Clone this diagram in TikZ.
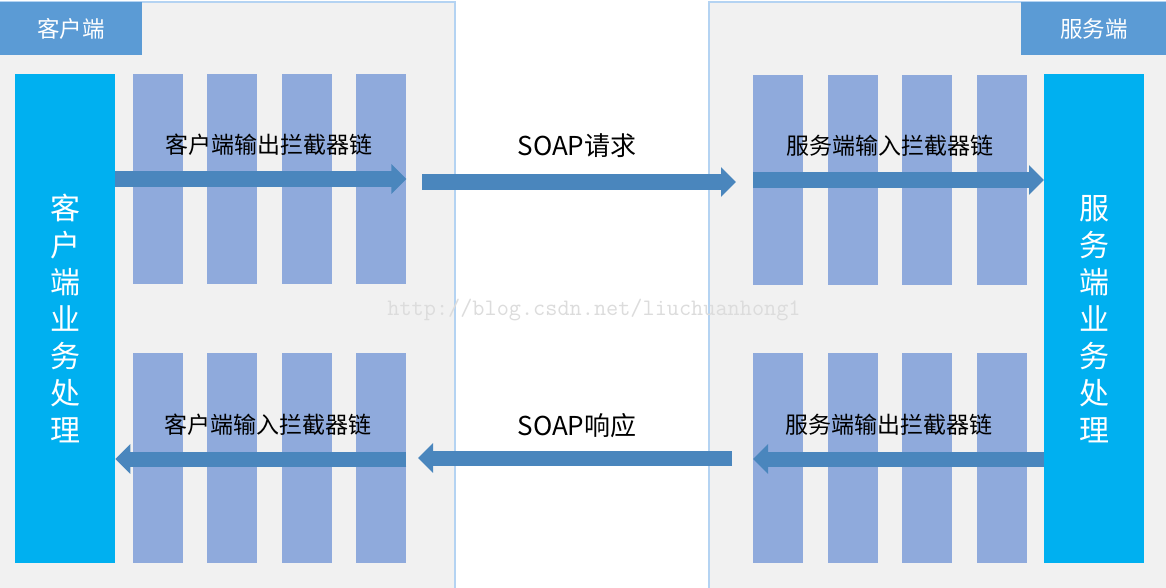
\documentclass[tikz,border=0pt]{standalone}
\usepackage{fontspec}
\newfontfamily\cjk{Noto Sans CJK SC}
\usetikzlibrary{arrows.meta}
\definecolor{panelc}{HTML}{F1F1F1}
\definecolor{panelb}{HTML}{B4D3F2}
\definecolor{headc}{HTML}{5B9BD5}
\definecolor{bizc}{HTML}{00B0F0}
\definecolor{colc}{HTML}{8FAADC}
\definecolor{arrc}{HTML}{4A86BD}
\definecolor{wmc}{HTML}{DCDCDC}
\begin{document}
\begin{tikzpicture}[x=1pt,y=-1pt,
  panel/.style={fill=panelc,draw=panelb,line width=1.2pt},
  head/.style={fill=headc,inner sep=0pt,anchor=north west,minimum width=142pt,minimum height=53pt,text=white,font=\cjk\fontsize{22.5}{26}\selectfont},
  col/.style={fill=colc,inner sep=0pt,anchor=north west,minimum width=50pt,minimum height=210pt},
  biz/.style={fill=bizc,inner sep=0pt,anchor=north west,minimum width=100pt,minimum height=489pt,text=white,align=center,font=\cjk\fontsize{30}{37}\selectfont},
  lbl/.style={inner sep=0pt,font=\cjk\fontsize{23}{27}\selectfont,text=black},
  soap/.style={inner sep=0pt,font=\cjk\fontsize{26}{30}\selectfont,text=black},
  flow/.style={draw=arrc,line width=15pt,-{Triangle[length=15pt,width=29pt]}}]
\useasboundingbox (0,0) rectangle (1166,588);
\fill[white] (0,0) rectangle (1166,588);
% panels
\path[panel] (-2,2) rectangle (455,592);
\path[panel] (709,2) rectangle (1170,592);
\node[head] (hl) at (0,2) {客户端};
\node[head,minimum width=146pt] (hr) at (1021,2) {服务端};
% business boxes
\node[biz] (cbiz) at (15,74) {客\\户\\端\\业\\务\\处\\理};
\node[biz] (sbiz) at (1044,74) {服\\务\\端\\业\\务\\处\\理};
% client columns
\node[col] (ct1) at (133,74) {};
\node[col] (ct2) at (207,74) {};
\node[col] (ct3) at (282,74) {};
\node[col] (ct4) at (356,74) {};
\node[col] (cb1) at (133,353) {};
\node[col] (cb2) at (207,353) {};
\node[col] (cb3) at (282,353) {};
\node[col] (cb4) at (356,353) {};
% server columns
\node[col] (st1) at (753,75) {};
\node[col] (st2) at (828,75) {};
\node[col] (st3) at (902,75) {};
\node[col] (st4) at (977,75) {};
\node[col] (sb1) at (753,353) {};
\node[col] (sb2) at (828,353) {};
\node[col] (sb3) at (902,353) {};
\node[col] (sb4) at (977,353) {};
% labels
\node[lbl] (lco) at (269,145) {客户端输出拦截器链};
\node[lbl] (lsi) at (890,146) {服务端输入拦截器链};
\node[soap] (lreq) at (577,146) {SOAP请求};
\node[lbl] (lci) at (268,425) {客户端输入拦截器链};
\node[lbl] (lso) at (889,425) {服务端输出拦截器链};
\node[soap] (lres) at (577,426) {SOAP响应};
% arrows
\coordinate (reqS) at (422,182);
\coordinate (reqE) at (736,182);
\coordinate (resS) at (732,458);
\coordinate (resE) at (418,458);
\draw[flow] (cbiz.east |- 0,179) -- (ct4.east |- 0,179);
\draw[flow] (reqS) -- (reqE);
\draw[flow] (st1.west |- 0,180) -- (sbiz.west |- 0,180);
\draw[flow] (sbiz.west |- 0,459) -- (sb1.west |- 0,459);
\draw[flow] (resS) -- (resE);
\draw[flow] (cb4.east |- 0,459) -- (cbiz.east |- 0,459);
% watermark
\node[inner sep=0pt,text=wmc,font=\ttfamily\fontsize{23.6}{26}\selectfont] (wm) at (594,310) {http://blog.csdn.net/liuchuanhong1};
\end{tikzpicture}
\end{document}
